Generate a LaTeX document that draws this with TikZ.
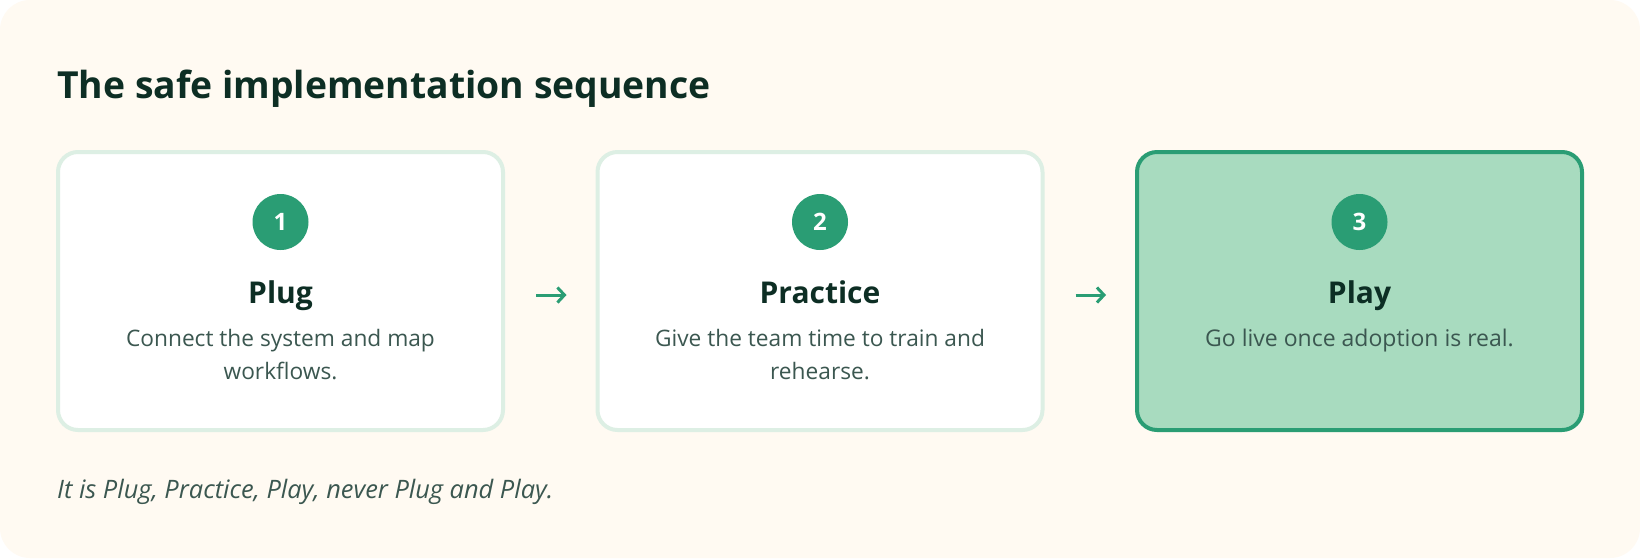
\documentclass[tikz,border=0pt]{standalone}
\usepackage{fontspec}
\setmainfont{Open Sans}
\usetikzlibrary{arrows.meta}
\definecolor{cream}{HTML}{FFFAF2}
\definecolor{cardline}{HTML}{DDEFE4}
\definecolor{accent}{HTML}{2A9D74}
\definecolor{hifill}{HTML}{A8DBBF}
\definecolor{ink}{HTML}{0D2E24}
\definecolor{body}{HTML}{3B5750}
\tikzset{
  card/.style={draw=cardline, fill=white, line width=4pt, rounded corners=20pt,
    minimum width=445pt, minimum height=278pt, inner sep=0pt},
  hicard/.style={card, draw=accent, fill=hifill},
  badge/.style={circle, fill=accent, minimum size=56pt, inner sep=0pt,
    text=white, font=\fontsize{24}{24}\selectfont\bfseries},
  heading/.style={anchor=base, text=ink, inner sep=0pt,
    font=\fontsize{30}{30}\selectfont\bfseries},
  desc/.style={anchor=base, text=body, inner sep=0pt,
    font=\fontsize{22.7}{33.5}\selectfont},
  flow/.style={draw=accent, line width=3pt, -{Straight Barb[length=7pt,width=15pt]}},
}
\newcommand{\twolines}[2]{\begin{tabular}[t]{@{}c@{}}#1\\#2\end{tabular}}
\begin{document}
\begin{tikzpicture}[x=1pt,y=-1pt]
\useasboundingbox (0,0) rectangle (1640,558);
\fill[white] (0,0) rectangle (1640,558);
\fill[cream, rounded corners=30pt] (0,0) rectangle (1640,558);

\node[anchor=base west, inner sep=0pt, text=ink, font=\fontsize{37.3}{37.3}\selectfont\bfseries]
  (title) at (57,98.3) {The safe implementation sequence};

\node[card] (c1) at (280.5,291) {};
\node[card] (c2) at (820,291) {};
\node[hicard] (c3) at (1359.5,291) {};

\node[badge] (b1) at (280.5,222) {1};
\node[badge] (b2) at (820,222) {2};
\node[badge] (b3) at (1359.5,222) {3};

\node[heading] (h1) at (280.5,303) {Plug};
\node[heading] (h2) at (820,303) {Practice};
\node[heading] (h3) at (1359.5,303) {Play};

\node[desc] (d1) at (280.5,346) {\twolines{Connect the system and map}{workflows.}};
\node[desc] (d2) at (820,346) {\twolines{Give the team time to train and}{rehearse.}};
\node[desc, font=\fontsize{23}{33.5}\selectfont] (d3) at (1359.5,346) {Go live once adoption is real.};

\draw[flow, shorten <=31pt, shorten >=29pt] ([yshift=-4pt]c1.east) -- ([yshift=-4pt]c2.west);
\draw[flow, shorten <=31pt, shorten >=29pt] ([yshift=-4pt]c2.east) -- ([yshift=-4pt]c3.west);

\node[anchor=base west, inner sep=0pt, text=body, font=\fontsize{25.4}{25.4}\selectfont\itshape]
  (note) at (57,498) {It is Plug, Practice, Play, never Plug and Play.};
\end{tikzpicture}
\end{document}
